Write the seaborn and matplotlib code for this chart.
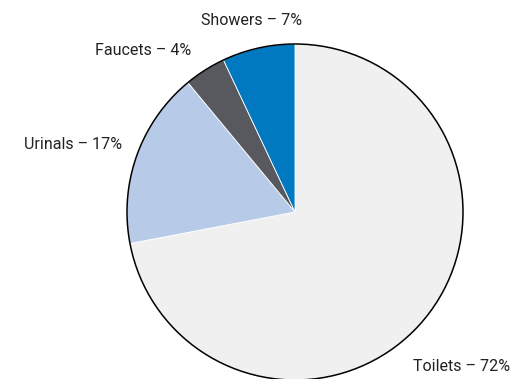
import matplotlib
matplotlib.use('Agg')
import matplotlib.pyplot as plt
import seaborn as sns
from matplotlib.patches import Circle

# data
categories = ['Toilets', 'Urinals', 'Faucets', 'Showers']
shares = [72, 17, 4, 7]
colors = ['#f0f0f0', '#b7cbe9', '#58595e', '#0079c1']

# label anchor points (pie radius = 1)
label_pos = [(0.70, -0.92), (-1.03, 0.40), (-0.62, 0.96), (-0.26, 1.14)]
label_ha = ['left', 'right', 'right', 'center']

sns.set_theme(style='white')
plt.rcParams['font.family'] = ['Roboto', 'DejaVu Sans']

W, H = 516, 379
cx, cy, r = 295, 212, 168
fig = plt.figure(figsize=(W / 100, H / 100), dpi=100)
ax = fig.add_axes([0, 0, 1, 1])

wedges, _ = ax.pie(shares, colors=colors, startangle=90, counterclock=False,
                   radius=1, wedgeprops=dict(edgecolor='white', linewidth=0.6))
ax.add_patch(Circle((0, 0), 1, fill=False, edgecolor='black', linewidth=1.1))

for name, val, (x, y), ha in zip(categories, shares, label_pos, label_ha):
    ax.text(x, y, f'{name} – {val}%', ha=ha, va='center', fontsize=11.5, color='#222222')

ax.set_xlim(-cx / r, (W - cx) / r)
ax.set_ylim(-(H - cy) / r, cy / r)
ax.set_aspect('equal')
ax.axis('off')

fig.savefig('out.png', dpi=100)
